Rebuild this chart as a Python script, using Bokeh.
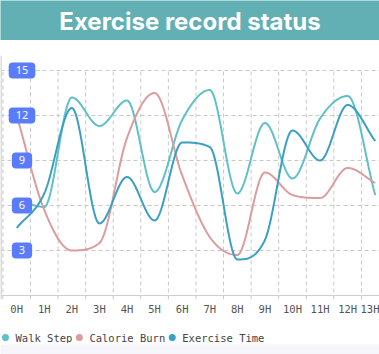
import numpy as np
from bokeh.plotting import figure
from bokeh.layouts import column
from bokeh.models import Range1d, FixedTicker, Span
from bokeh.core.properties import value
from bokeh.embed import file_html
from bokeh.resources import INLINE

# ---------------- data ----------------
hours = ["0H", "1H", "2H", "3H", "4H", "5H", "6H", "7H", "8H", "9H", "10H", "11H", "12H", "13H"]
walk_step = [6.4, 5.9, 13.2, 11.3, 13.0, 6.9, 11.7, 13.7, 6.8, 11.5, 7.8, 11.8, 13.3, 6.7]
calorie_burn = [12.0, 5.7, 3.0, 3.5, 10.5, 13.5, 8.0, 3.9, 2.7, 8.2, 6.7, 6.5, 8.5, 7.5]
exercise_time = [4.5, 6.8, 12.5, 4.8, 7.9, 5.0, 10.2, 9.9, 2.4, 3.7, 11.0, 9.0, 12.7, 10.3]
y_ticks = [3, 6, 9, 12, 15]
series_names = ["Walk Step", "Calorie Burn", "Exercise Time"]
title_text = "Exercise record status"

# ---------------- styles ----------------
W = 379
colors = ["#5fc1c7", "#dc9c9e", "#3a9fc3"]
banner_color = "#62afb4"
label_box_color = "#5b7cfa"
grid_color = "#c9c9c9"
cat_px = 27.58          # pixel width of one hour category
left_px = 2.4           # pixel position of the first category boundary


def monotone(ys, n=30):
    xs = np.arange(len(ys), dtype=float)
    ys = np.asarray(ys, dtype=float)
    N = len(ys)
    d = np.diff(ys)
    m = np.zeros(N)
    m[0], m[-1] = d[0], d[-1]
    for i in range(1, N - 1):
        if d[i - 1] * d[i] <= 0:
            m[i] = 0.0
        else:
            m[i] = (d[i - 1] + d[i]) / 2
    for i in range(N - 1):
        if abs(d[i]) < 1e-9:
            m[i] = m[i + 1] = 0.0
            continue
        a, b = m[i] / d[i], m[i + 1] / d[i]
        s = a * a + b * b
        if s > 9:
            t = 3 / np.sqrt(s)
            m[i], m[i + 1] = t * a * d[i], t * b * d[i]
    px, py = [], []
    for i in range(N - 1):
        t = np.linspace(0, 1, n, endpoint=(i == N - 2))
        h00 = 2 * t**3 - 3 * t**2 + 1
        h10 = t**3 - 2 * t**2 + t
        h01 = -2 * t**3 + 3 * t**2
        h11 = t**3 - t**2
        px.extend(xs[i] + t)
        py.extend(h00 * ys[i] + h10 * m[i] + h01 * ys[i + 1] + h11 * m[i + 1])
    return px, py


# ---------------- banner ----------------
banner = figure(width=W, height=40, x_range=Range1d(0, 1), y_range=Range1d(0, 1),
                output_backend="svg", toolbar_location=None,
                x_axis_location=None, y_axis_location=None,
                min_border=0, min_border_left=0, min_border_right=0,
                min_border_top=0, min_border_bottom=0)
banner.outline_line_color = None
banner.grid.visible = False
banner.background_fill_color = banner_color
banner.border_fill_color = banner_color
banner.text(x=[0.5], y=[0.47], text=[title_text], text_align="center", text_baseline="middle",
            text_color="white", text_font=value("Inter"), text_font_style="bold",
            text_font_size="24px")

# ---------------- chart ----------------
x_start = -0.5 - left_px / cat_px
x_end = x_start + W / cat_px
y_start, y_end = -0.27, 16

p = figure(width=W, height=282, x_range=Range1d(x_start, x_end), y_range=Range1d(y_start, y_end),
           output_backend="svg", toolbar_location=None, y_axis_location=None,
           min_border_left=0, min_border_right=0, min_border_top=15, min_border_bottom=23)
p.outline_line_color = None
p.xgrid.visible = False
p.ygrid.ticker = FixedTicker(ticks=y_ticks)
p.ygrid.grid_line_color = grid_color
p.ygrid.grid_line_dash = "4 3"

bounds = [i + 0.5 for i in range(-1, len(hours) - 1)] + [len(hours) - 0.5]
p.segment(x0=bounds, y0=[y_start] * len(bounds), x1=bounds, y1=[max(y_ticks)] * len(bounds),
          line_color=grid_color, line_dash="4 3", line_width=1)

p.add_layout(Span(location=0, dimension="width", line_color="#cccccc", line_width=1))
p.add_layout(Span(location=x_start, dimension="height", line_color="#dddddd", line_width=3))

for ys, c in zip([walk_step, calorie_burn, exercise_time], colors):
    sx, sy = monotone(ys)
    p.line(x=sx, y=sy, line_color=c, line_width=2)

p.text(x=[x_start] * len(y_ticks), y=y_ticks, text=[str(v) for v in y_ticks],
       x_offset=21.5, text_align="center", text_baseline="middle",
       text_color="white", text_font=value("Noto Sans"), text_font_size="11px",
       background_fill_color=label_box_color, border_radius=4, padding=(7, 4))

p.xaxis.ticker = FixedTicker(ticks=list(range(len(hours))))
p.xaxis.major_label_overrides = {i: h for i, h in enumerate(hours)}
p.xaxis.axis_line_color = None
p.xaxis.major_tick_line_color = None
p.xaxis.minor_tick_line_color = None
p.xaxis.major_tick_out = 0
p.xaxis.major_tick_in = 0
p.xaxis.major_label_standoff = 3
p.xaxis.major_label_text_font = "DejaVu Sans Mono"
p.xaxis.major_label_text_font_size = "10.5px"
p.xaxis.major_label_text_color = "#555555"

# ---------------- legend ----------------
LH = 21
lg = figure(width=W, height=LH, x_range=Range1d(0, W), y_range=Range1d(0, LH),
            output_backend="svg", toolbar_location=None,
            x_axis_location=None, y_axis_location=None,
            min_border=0, min_border_left=0, min_border_right=0,
            min_border_top=0, min_border_bottom=0)
lg.outline_line_color = None
lg.grid.visible = False
char_w = 10.5 * 0.602
dot_x, text_x = [], []
cur = 5.0
for name in series_names:
    dot_x.append(cur)
    text_x.append(cur + 10)
    cur = cur + 10 + len(name) * char_w + 7
mid = LH - 15
lg.scatter(x=dot_x, y=[mid] * 3, size=7, color=colors, line_color=None)
lg.text(x=text_x, y=[mid] * 3, text=series_names, text_baseline="middle", text_align="left",
        text_font=value("DejaVu Sans Mono"), text_font_size="10.5px", text_color="#444444")

# ---------------- bottom strip ----------------
strip = figure(width=W, height=11, output_backend="svg", toolbar_location=None,
               x_axis_location=None, y_axis_location=None,
               min_border=0, min_border_left=0, min_border_right=0,
               min_border_top=0, min_border_bottom=0)
strip.outline_line_color = None
strip.grid.visible = False
strip.background_fill_color = "#f5f5fb"
strip.border_fill_color = "#f5f5fb"

layout = column(banner, p, lg, strip, spacing=0)
open("out.html", "w").write(file_html(layout, INLINE))
